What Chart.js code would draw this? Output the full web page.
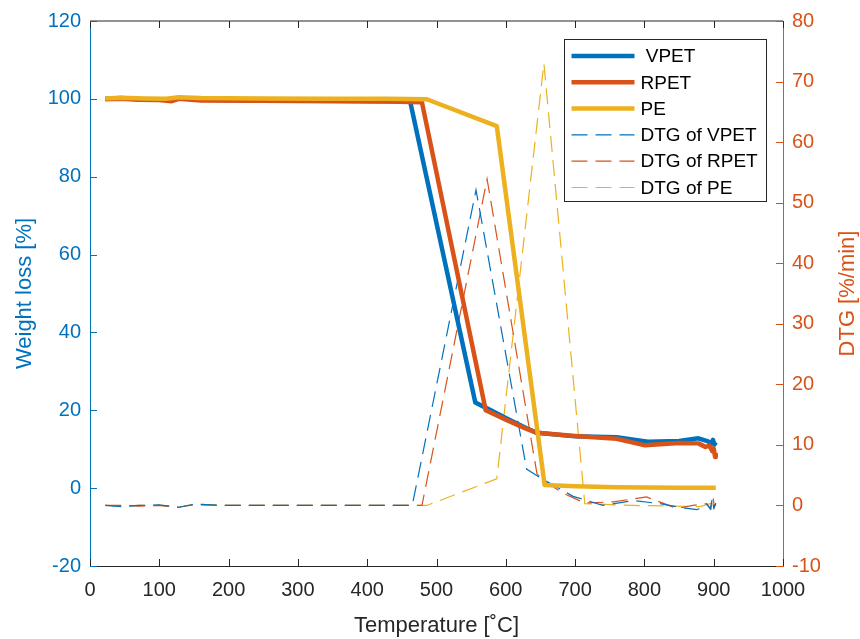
<!DOCTYPE html>
<html>
<head>
<meta charset="utf-8">
<title>TGA / DTG</title>
<script src="https://cdn.jsdelivr.net/npm/chart.js@4.4.1/dist/chart.umd.min.js"></script>
<style>
  html, body { margin: 0; padding: 0; background: #fff; }
  canvas { display: block; }
</style>
</head>
<body>
<canvas id="tgaChart" width="860" height="639"></canvas>
<script>
const BLUE = "#0072BD";
const ORANGE = "#D95319";
const YELLOW = "#EDB120";
const AXIS = "#262626";
const FONT = "'Liberation Sans', Arial, Helvetica, sans-serif";

// axis ranges
const tempRange = [0, 1000, 100];
const weightRange = [-20, 120, 20];
const dtgRange = [-10, 80, 10];

// weight loss curves (left axis)
const vpetTemp = [22, 45, 70, 100, 118, 128, 160, 250, 350, 430, 462, 556, 575, 600, 630, 645, 700, 760, 805, 850, 878, 892, 896, 899, 901, 903];
const vpetWeight = [100.0, 100.2, 99.9, 99.9, 99.6, 100.2, 99.8, 99.6, 99.5, 99.4, 99.3, 22.0, 20.3, 18.0, 15.4, 14.2, 13.3, 13.1, 11.9, 12.1, 12.8, 12.0, 11.4, 12.4, 11.2, 11.8];

const rpetTemp = [22, 45, 70, 100, 118, 128, 160, 250, 350, 430, 479, 571, 600, 630, 645, 700, 760, 801, 850, 878, 888, 894, 898, 900, 902, 903];
const rpetWeight = [99.9, 100.0, 99.8, 99.7, 99.4, 100.0, 99.6, 99.5, 99.4, 99.3, 99.1, 20.0, 17.6, 15.2, 14.2, 13.4, 12.7, 11.0, 11.6, 11.5, 10.6, 10.9, 9.5, 10.2, 8.0, 9.0];

const peTemp = [22, 45, 80, 110, 128, 160, 250, 350, 430, 486, 587, 656, 700, 760, 850, 903];
const peWeight = [100.1, 100.3, 100.1, 100.0, 100.4, 100.2, 100.1, 100.0, 100.0, 99.9, 93.0, 0.8, 0.5, 0.2, 0.1, 0.1];

// DTG curves (right axis)
const dtgVpetTemp = [22, 45, 70, 100, 128, 150, 200, 300, 400, 465, 557, 630, 645, 697, 712, 740, 784, 822, 850, 876, 890, 895, 898, 900, 903];
const dtgVpet = [0.0, -0.2, 0.0, 0.1, -0.3, 0.2, 0.0, 0.0, 0.0, 0.0, 52.1, 6.0, 4.9, 1.5, 1.0, 0.0, 0.8, 0.3, -0.3, -0.7, 0.2, -0.6, 1.2, -0.4, 0.3];

const dtgRpetTemp = [22, 45, 70, 100, 128, 150, 200, 300, 400, 479, 573, 645, 655, 683, 714, 755, 803, 847, 870, 890, 896, 899, 901, 903];
const dtgRpet = [0.0, 0.0, -0.1, 0.0, -0.3, 0.1, 0.0, 0.0, 0.0, 0.0, 53.9, 5.2, 4.1, 2.0, 0.4, 0.6, 1.4, -0.5, 0.0, 0.3, -0.6, 1.5, -0.3, 0.4];

const dtgPeTemp = [22, 45, 70, 100, 128, 150, 200, 300, 400, 486, 587, 655, 714, 784, 840, 880, 898, 901, 903];
const dtgPe = [0.0, -0.1, 0.0, 0.0, -0.3, 0.2, 0.0, 0.0, 0.0, 0.0, 4.4, 73.0, 0.3, 0.0, -0.1, -0.2, 0.4, -0.3, 0.1];

const DASH = [16, 8];

function toPoints(xs, ys) {
  return xs.map((x, i) => ({ x, y: ys[i] }));
}

function solid(label, xs, ys, color, order) {
  return {
    label,
    data: toPoints(xs, ys),
    yAxisID: "y",
    borderColor: color,
    borderWidth: 4.5,
    borderJoinStyle: "round",
    order,
  };
}

function dashed(label, xs, ys, color, order) {
  return {
    label,
    data: toPoints(xs, ys),
    yAxisID: "y1",
    borderColor: color,
    borderWidth: 1.2,
    borderDash: DASH,
    order,
  };
}

// plain numbers, no thousands separator
function plainTick(value) {
  return String(value);
}

// matlab style: inward ticks, box top edge, right title and legend box
const axesDecor = {
  id: "axesDecor",
  afterDraw(chart) {
    const { ctx, chartArea: a, scales } = chart;
    const len = 7;
    ctx.save();
    ctx.lineWidth = 1;

    ctx.strokeStyle = AXIS;
    ctx.beginPath();
    ctx.moveTo(a.left, a.top);
    ctx.lineTo(a.right, a.top);
    ctx.stroke();

    ctx.beginPath();
    scales.x.ticks.forEach((t) => {
      const px = Math.round(scales.x.getPixelForValue(t.value)) + 0.5;
      ctx.moveTo(px, a.bottom);
      ctx.lineTo(px, a.bottom - len);
      ctx.moveTo(px, a.top);
      ctx.lineTo(px, a.top + len);
    });
    ctx.stroke();

    ctx.strokeStyle = BLUE;
    ctx.beginPath();
    scales.y.ticks.forEach((t) => {
      const py = Math.round(scales.y.getPixelForValue(t.value)) + 0.5;
      ctx.moveTo(a.left, py);
      ctx.lineTo(a.left + len, py);
    });
    ctx.stroke();

    ctx.strokeStyle = ORANGE;
    ctx.beginPath();
    scales.y1.ticks.forEach((t) => {
      const py = Math.round(scales.y1.getPixelForValue(t.value)) + 0.5;
      ctx.moveTo(a.right, py);
      ctx.lineTo(a.right - len, py);
    });
    ctx.stroke();

    // right axis title reads bottom to top
    ctx.save();
    ctx.translate(848, (a.top + a.bottom) / 2);
    ctx.rotate(-Math.PI / 2);
    ctx.fillStyle = ORANGE;
    ctx.font = "22px " + FONT;
    ctx.textAlign = "center";
    ctx.textBaseline = "middle";
    ctx.fillText("DTG [%/min]", 0, 0);
    ctx.restore();

    // legend
    const bx = a.right - 218.5;
    const by = a.top + 18.5;
    const bw = 202;
    const bh = 162;
    ctx.fillStyle = "#fff";
    ctx.fillRect(bx, by, bw, bh);
    ctx.strokeStyle = AXIS;
    ctx.setLineDash([]);
    ctx.strokeRect(bx, by, bw, bh);

    ctx.font = "19px " + FONT;
    ctx.textAlign = "left";
    ctx.textBaseline = "middle";
    chart.data.datasets.forEach((ds, i) => {
      const y = by + 16.5 + i * 26.3;
      ctx.strokeStyle = ds.borderColor;
      ctx.lineWidth = ds.borderWidth;
      ctx.setLineDash(ds.borderDash || []);
      ctx.beginPath();
      ctx.moveTo(bx + 7, y);
      ctx.lineTo(bx + 70, y);
      ctx.stroke();
      ctx.fillStyle = "#000";
      ctx.fillText(ds.label, bx + 76, y + 1);
    });
    ctx.restore();
  },
};

function buildChart() {
  const ctx = document.getElementById("tgaChart").getContext("2d");
  return new Chart(ctx, {
    type: "line",
    data: {
      datasets: [
        solid(" VPET", vpetTemp, vpetWeight, BLUE, 3),
        solid("RPET", rpetTemp, rpetWeight, ORANGE, 2),
        solid("PE", peTemp, peWeight, YELLOW, 1),
        dashed("DTG of VPET", dtgVpetTemp, dtgVpet, BLUE, 4),
        dashed("DTG of RPET", dtgRpetTemp, dtgRpet, ORANGE, 5),
        dashed("DTG of PE", dtgPeTemp, dtgPe, YELLOW, 6),
      ],
    },
    options: {
      responsive: false,
      animation: false,
      devicePixelRatio: 1,
      layout: { padding: { top: 18, left: 0, right: 0, bottom: 0 } },
      elements: {
        point: { radius: 0, hoverRadius: 0 },
        line: { tension: 0, fill: false },
      },
      plugins: {
        legend: { display: false },
        tooltip: { enabled: false },
      },
      scales: {
        x: {
          type: "linear",
          min: tempRange[0],
          max: tempRange[1],
          ticks: {
            stepSize: tempRange[2],
            color: AXIS,
            font: { family: FONT, size: 20 },
            padding: 12,
            maxRotation: 0,
            autoSkip: false,
            callback: plainTick,
          },
          grid: { display: false, drawTicks: false },
          border: { color: AXIS, width: 1 },
          title: {
            display: true,
            text: "Temperature [˚C]",
            color: AXIS,
            font: { family: FONT, size: 22 },
            padding: { top: 0, bottom: 0 },
          },
          afterFit(scale) {
            scale.height = 73;
          },
        },
        y: {
          position: "left",
          min: weightRange[0],
          max: weightRange[1],
          ticks: {
            stepSize: weightRange[2],
            color: BLUE,
            font: { family: FONT, size: 20 },
            padding: 9,
            callback: plainTick,
          },
          grid: { display: false, drawTicks: false },
          border: { color: BLUE, width: 1 },
          title: {
            display: true,
            text: "Weight loss [%]",
            color: BLUE,
            font: { family: FONT, size: 22 },
            padding: { top: 12, bottom: 0 },
          },
          afterFit(scale) {
            scale.width = 90;
          },
        },
        y1: {
          position: "right",
          min: dtgRange[0],
          max: dtgRange[1],
          ticks: {
            stepSize: dtgRange[2],
            color: ORANGE,
            font: { family: FONT, size: 20 },
            padding: 9,
            callback: plainTick,
          },
          grid: { display: false, drawTicks: false },
          border: { color: ORANGE, width: 1 },
          afterFit(scale) {
            scale.width = 77;
          },
        },
      },
    },
    plugins: [axesDecor],
  });
}

document.addEventListener("DOMContentLoaded", buildChart);
</script>
</body>
</html>
